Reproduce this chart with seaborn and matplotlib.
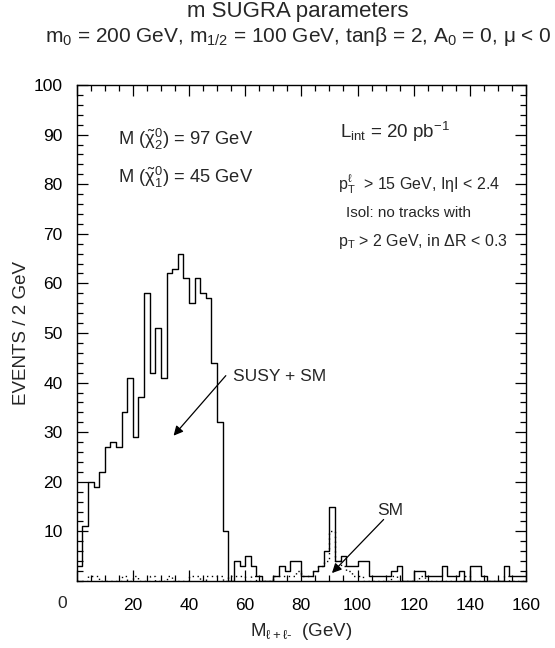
import numpy as np
import pandas as pd
import matplotlib
matplotlib.use("Agg")
import matplotlib.pyplot as plt
from matplotlib.ticker import MultipleLocator
import seaborn as sns

# ---- data (2 GeV bins, 0-160 GeV) ----
bin_width = 2
bin_edges = list(range(0, 161, 2))
susy_sm = [3, 11, 20, 19, 22, 27, 28, 27, 34, 41,
           29, 37, 58, 42, 51, 41, 62, 63, 66, 61,
           56, 61, 58, 57, 44, 32, 10, 0, 4, 3,
           5, 3, 1, 0, 0, 1, 3, 2, 4, 4,
           1, 1, 2, 3, 6, 15, 4, 5, 3, 3,
           4, 4, 1, 1, 1, 1, 2, 3, 0, 0,
           2, 2, 1, 1, 1, 3, 1, 1, 2, 0,
           3, 3, 1, 0, 0, 0, 3, 1, 1, 1]
sm_only = [0, 0, 1, 1, 0, 0, 0, 0, 1, 0,
           1, 0, 0, 1, 0, 0, 1, 0, 0, 0,
           1, 1, 0, 1, 1, 1, 0, 1, 1, 1,
           0, 1, 0, 0, 0, 1, 1, 1, 1, 2,
           1, 1, 2, 3, 4, 10, 4, 3, 2, 1,
           1, 0, 0, 0, 0, 0, 1, 0, 0, 0,
           0, 1, 0, 0, 0, 0, 0, 0, 0, 1,
           0, 0, 0, 0, 0, 0, 1, 0, 0, 0]
x_ticks = [0, 20, 40, 60, 80, 100, 120, 140, 160]
x_tick_labels = ["", "20", "40", "60", "80", "100", "120", "140", "160"]
y_ticks = [10, 20, 30, 40, 50, 60, 70, 80, 90, 100]

centers = [e + bin_width / 2 for e in bin_edges[:-1]]
df = pd.DataFrame({"m": centers, "susy": susy_sm, "sm": sm_only})

sns.set_theme(style="ticks")
plt.rcParams["font.family"] = ["Liberation Sans", "DejaVu Sans"]
plt.rcParams["mathtext.fontset"] = "custom"
plt.rcParams["mathtext.rm"] = "Liberation Sans"
plt.rcParams["mathtext.it"] = "Liberation Sans"
plt.rcParams["mathtext.bf"] = "Liberation Sans:bold"

fig = plt.figure(figsize=(5.55, 6.48), dpi=100)
ax = fig.add_axes([76.7 / 555, 1 - 581 / 648, (526 - 76.7) / 555, (581 - 85) / 648])

sns.histplot(data=df, x="m", weights="susy", bins=bin_edges, element="step",
             fill=False, color="black", linewidth=1.0, ax=ax)
sns.histplot(data=df, x="m", weights="sm", bins=bin_edges, element="step",
             fill=False, color="black", linewidth=1.0, linestyle=(0, (1, 2.5)), ax=ax)

ax.set_xlim(0, 160)
ax.set_ylim(0, 100)
ax.set_xticks(x_ticks)
ax.set_xticklabels(x_tick_labels)
ax.set_yticks(y_ticks)
ax.xaxis.set_minor_locator(MultipleLocator(5))
ax.yaxis.set_minor_locator(MultipleLocator(2))
ax.tick_params(axis="both", which="both", direction="in", top=True, right=True,
               colors="black", labelsize=12.5, width=0.9)
ax.tick_params(axis="x", which="major", length=8, pad=12)
ax.tick_params(axis="x", which="minor", length=4)
ax.tick_params(axis="y", which="major", length=8, pad=10)
ax.tick_params(axis="y", which="minor", length=4)
for s in ax.spines.values():
    s.set_linewidth(1.0)
    s.set_color("black")
    s.set_visible(True)

# the "0" label sits left of the frame in the reference
fig.text(62 / 555, 1 - 603 / 648, "0", fontsize=12.5, ha="center", va="center")

ax.set_xlabel(r"M$_{\ell+\ell\text{-}}$  (GeV)", fontsize=13.5, labelpad=6)
ax.set_ylabel("EVENTS / 2 GeV", fontsize=13.5, labelpad=3)

fig.text(298 / 555, 1 - 12 / 648, "m SUGRA parameters", ha="center", va="center", fontsize=16)
fig.text(298 / 555, 1 - 37 / 648,
         r"m$_0$ = 200 GeV, m$_{1/2}$ = 100 GeV, tanβ = 2, A$_0$ = 0, μ < 0",
         ha="center", va="center", fontsize=15)

ax.text(14.7, 89, r"M ($\tilde{\chi}_2^0$) = 97 GeV", fontsize=13.2, va="center")
ax.text(14.7, 81.3, r"M ($\tilde{\chi}_1^0$) = 45 GeV", fontsize=13.2, va="center")
ax.text(93.7, 90.5, r"L$_{\mathrm{int}}$ = 20 pb$^{\mathrm{-1}}$", fontsize=13.5, va="center")
ax.text(93.2, 80, r"p$_T^\ell$  > 15 GeV, IηI < 2.4", fontsize=11.5, va="center")
ax.text(95.8, 74.2, "Isol: no tracks with", fontsize=11.0, va="center")
ax.text(93.2, 68.4, r"p$_T$ > 2 GeV, in ΔR < 0.3", fontsize=11.5, va="center")

ax.annotate("", xy=(34.5, 29.3), xytext=(53.1, 41.4),
            arrowprops=dict(arrowstyle="-|>", color="black", lw=0.9,
                            mutation_scale=14, shrinkA=0, shrinkB=0))
ax.text(55.7, 41.2, "SUSY + SM", fontsize=12.5, va="center")
ax.annotate("", xy=(90.9, 1.6), xytext=(109.3, 12.4),
            arrowprops=dict(arrowstyle="-|>", color="black", lw=0.9,
                            mutation_scale=14, shrinkA=0, shrinkB=0))
ax.text(111.5, 14.3, "SM", fontsize=12.5, va="center", ha="center")

fig.savefig("out.png", dpi=100)
